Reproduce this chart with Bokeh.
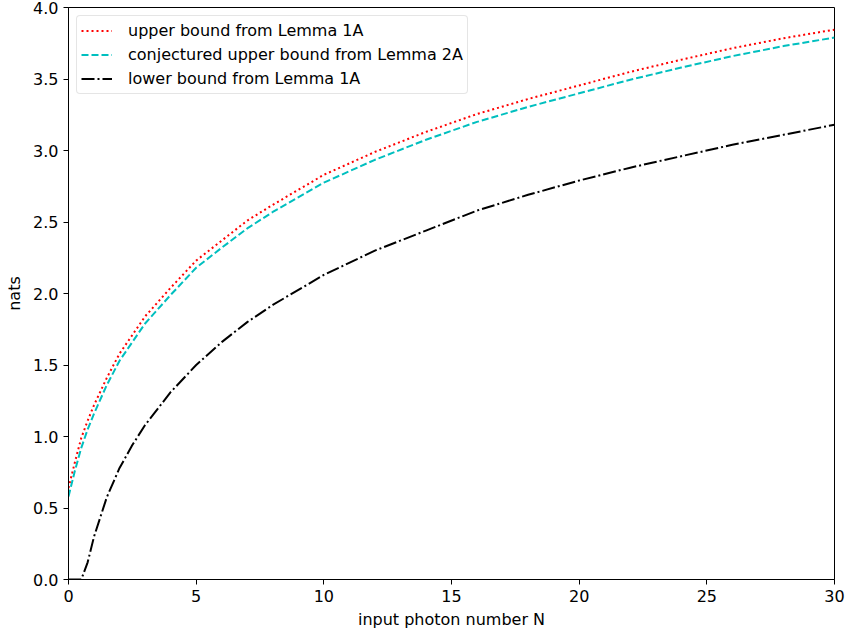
from bokeh.plotting import figure
from bokeh.models import Range1d, FixedTicker, PrintfTickFormatter, Legend, LegendItem
from bokeh.embed import file_html
from bokeh.resources import INLINE

N = [0, 0.25, 0.5, 0.75, 1, 1.5, 2, 2.5, 3, 4, 5, 6, 7, 8, 10, 12, 14, 16, 18, 20, 22, 24, 26, 28, 30]
upper_1A = [0.64, 0.82, 0.99, 1.11, 1.22, 1.41, 1.58, 1.71, 1.84, 2.04, 2.23, 2.37, 2.51, 2.62, 2.83,
            2.99, 3.13, 3.255, 3.36, 3.455, 3.55, 3.635, 3.715, 3.785, 3.845]
conj_2A = [0.58, 0.76, 0.92, 1.05, 1.16, 1.36, 1.53, 1.66, 1.79, 1.99, 2.18, 2.32, 2.455, 2.57, 2.775,
           2.935, 3.075, 3.20, 3.305, 3.40, 3.495, 3.58, 3.66, 3.73, 3.79]
lower_1A = [0.0, 0.0, 0.0, 0.12, 0.30, 0.575, 0.78, 0.94, 1.08, 1.31, 1.50, 1.66, 1.80, 1.92, 2.13,
            2.30, 2.44, 2.58, 2.69, 2.79, 2.88, 2.96, 3.04, 3.11, 3.18]

x_ticks = [0, 5, 10, 15, 20, 25, 30]
y_ticks = [0.0, 0.5, 1.0, 1.5, 2.0, 2.5, 3.0, 3.5, 4.0]
labels = ["upper bound from Lemma 1A", "conjectured upper bound from Lemma 2A", "lower bound from Lemma 1A"]

FONT = "DejaVu Sans"
FS = "16px"

p = figure(width=846, height=635, output_backend="svg", toolbar_location=None,
           x_range=Range1d(0, 30), y_range=Range1d(0, 4),
           min_border_left=68, min_border_right=12, min_border_top=7, min_border_bottom=56)
p.xgrid.visible = False
p.ygrid.visible = False
p.outline_line_color = "black"
p.outline_line_width = 1
p.background_fill_color = "white"
p.border_fill_color = "white"

for ax in (p.xaxis[0], p.yaxis[0]):
    ax.major_tick_in = 0
    ax.major_tick_out = 5
    ax.minor_tick_line_color = None
    ax.axis_line_color = "black"
    ax.major_tick_line_color = "black"
    ax.major_label_text_font = FONT
    ax.major_label_text_font_size = FS
    ax.major_label_text_color = "black"
    ax.axis_label_text_font = FONT
    ax.axis_label_text_font_size = FS
    ax.axis_label_text_font_style = "normal"
    ax.axis_label_text_color = "black"
    ax.major_label_standoff = 5

p.xaxis.ticker = FixedTicker(ticks=x_ticks)
p.yaxis.ticker = FixedTicker(ticks=y_ticks)
p.yaxis.formatter = PrintfTickFormatter(format="%.1f")
p.yaxis.axis_label = "nats"
p.yaxis.axis_label_standoff = 6
p.xaxis.axis_label = "input photon number N"
p.xaxis.axis_label_standoff = 5

r1 = p.line(N, upper_1A, line_color="#ff0000", line_width=2, line_dash="2 3")
r2 = p.line(N, conj_2A, line_color="#00bfbf", line_width=2, line_dash="7 3")
r3 = p.line(N, lower_1A, line_color="black", line_width=2, line_dash="13 3 2 3")

legend = Legend(items=[LegendItem(label=labels[0], renderers=[r1]),
                       LegendItem(label=labels[1], renderers=[r2]),
                       LegendItem(label=labels[2], renderers=[r3])],
                location="top_left")
legend.margin = 8
legend.padding = 4
legend.spacing = 3
legend.glyph_width = 31
legend.glyph_height = 21
legend.label_standoff = 16
legend.label_text_font = FONT
legend.label_text_font_size = FS
legend.label_text_color = "black"
legend.label_height = 21
legend.border_line_color = "#cccccc"
legend.border_line_width = 1
legend.border_radius = 4
legend.background_fill_alpha = 0.8
p.add_layout(legend)

open("out.html", "w").write(file_html(p, INLINE))
